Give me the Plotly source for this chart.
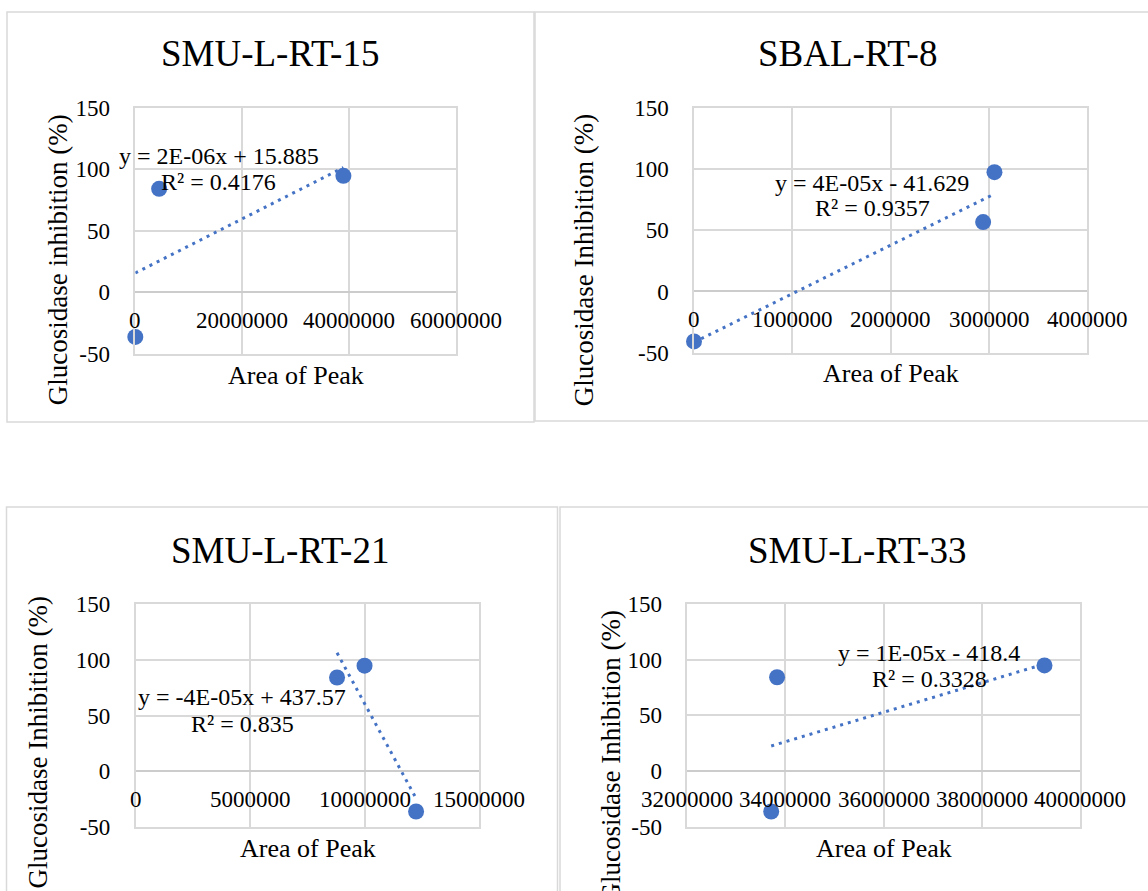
import numpy as np
import plotly.graph_objects as go

# ---------------- data ----------------
titles = ["SMU-L-RT-15", "SBAL-RT-8", "SMU-L-RT-21", "SMU-L-RT-33"]
y_titles = ["Glucosidase inhibition (%)", "Glucosidase Inhibition (%)",
            "Glucosidase Inhibition (%)", "Glucosidase Inhibition (%)"]
x_title = "Area of Peak"

x_rt15 = [0, 4450000, 38900000]
y_rt15 = [-36.1, 84.1, 94.7]

x_rt8 = [0, 2940000, 3055000]
y_rt8 = [-40.8, 56.6, 97.4]

x_rt21 = [8790000, 9990000, 12240000]
y_rt21 = [84.1, 94.7, -36.1]

x_rt33 = [33830000, 33710000, 39280000]
y_rt33 = [84.1, -36.1, 94.7]

eq_rt15 = ["y = 2E-06x + 15.885", "R² = 0.4176"]
eq_rt8 = ["y = 4E-05x - 41.629", "R² = 0.9357"]
eq_rt21 = ["y = -4E-05x + 437.57", "R² = 0.835"]
eq_rt33 = ["y = 1E-05x - 418.4", "R² = 0.3328"]

xticks_rt15 = [0, 20000000, 40000000, 60000000]
xticks_rt8 = [0, 1000000, 2000000, 3000000, 4000000]
xticks_rt21 = [0, 5000000, 10000000, 15000000]
xticks_rt33 = [32000000, 34000000, 36000000, 38000000, 40000000]
xlabels_rt15 = ["0", "20000000", "40000000", "60000000"]
xlabels_rt8 = ["0", "1000000", "2000000", "3000000", "4000000"]
xlabels_rt21 = ["0", "5000000", "10000000", "15000000"]
xlabels_rt33 = ["32000000", "34000000", "36000000", "38000000", "40000000"]

yticks = [-50, 0, 50, 100, 150]
ylabels = ["-50", "0", "50", "100", "150"]

# ---------------- styling / layout (pixels) ----------------
W, H = 1148, 891
FONT = "Liberation Serif, Times New Roman, serif"
BLUE = "#4472C4"
GRID = "#d9d9d9"

panels = [
    dict(x=x_rt15, y=y_rt15, eq=eq_rt15, xt=xticks_rt15, xl=xlabels_rt15,
         plot=(135.3, 456.3, 107.7, 354.0), title=(269.5, 54), ytitle=(57.7, 259.5),
         xtitle=(295.8, 375), eqpos=(219, 156, 182), frame=(7, 534, 12, 422)),
    dict(x=x_rt8, y=y_rt8, eq=eq_rt8, xt=xticks_rt8, xl=xlabels_rt8,
         plot=(694.0, 1087.4, 107.7, 352.7), title=(847, 54), ytitle=(584.2, 260),
         xtitle=(890.7, 373), eqpos=(872, 183, 208), frame=(535, 1160, 12, 421)),
    dict(x=x_rt21, y=y_rt21, eq=eq_rt21, xt=xticks_rt21, xl=xlabels_rt21,
         plot=(135.7, 479.3, 604.0, 827.0), title=(280, 550), ytitle=(37.5, 743),
         xtitle=(307.5, 848), eqpos=(242, 697, 724), frame=(6.5, 557.5, 507, 905)),
    dict(x=x_rt33, y=y_rt33, eq=eq_rt33, xt=xticks_rt33, xl=xlabels_rt33,
         plot=(687.3, 1079.8, 603.7, 827.0), title=(857.4, 550.5), ytitle=(610, 756.5),
         xtitle=(883.5, 848), eqpos=(929, 653, 679), frame=(560, 1160, 507, 905)),
]


def px(xp):
    return xp / W


def py(yp):
    return 1 - yp / H


fig = go.Figure()
annotations = []
shapes = []
layout_axes = {}

for i, p in enumerate(panels, start=1):
    sfx = "" if i == 1 else str(i)
    xa, ya = "x" + sfx, "y" + sfx
    l, r, t, b = p["plot"]

    fig.add_trace(go.Scatter(
        x=p["x"], y=p["y"], mode="markers", xaxis=xa, yaxis=ya,
        marker=dict(color=BLUE, size=16), cliponaxis=False, showlegend=False,
        hoverinfo="skip"))

    slope, intercept = np.polyfit(np.array(p["x"], float), np.array(p["y"], float), 1)
    xs = [min(p["x"]), max(p["x"])]
    fig.add_trace(go.Scatter(
        x=xs, y=[slope * v + intercept for v in xs], mode="lines", xaxis=xa, yaxis=ya,
        line=dict(color=BLUE, width=3, dash="3px,5px"), cliponaxis=False, showlegend=False,
        hoverinfo="skip"))

    layout_axes["xaxis" + sfx] = dict(
        domain=[px(l), px(r)], anchor=ya, range=[p["xt"][0], p["xt"][-1]],
        tickmode="array", tickvals=p["xt"], showticklabels=False, automargin=False,
        showgrid=True, gridcolor=GRID, gridwidth=1.5, zeroline=False,
        showline=True, mirror=True, linecolor=GRID, linewidth=1.5, ticks="")
    layout_axes["yaxis" + sfx] = dict(
        domain=[py(b), py(t)], anchor=xa, range=[-50, 150], automargin=False,
        tickmode="array", tickvals=yticks, ticktext=ylabels,
        tickfont=dict(family=FONT, size=23, color="black"), ticklabelstandoff=19,
        showgrid=True, gridcolor=GRID, gridwidth=1.5,
        zeroline=True, zerolinecolor="#cccccc", zerolinewidth=1.5,
        showline=True, mirror=True, linecolor=GRID, linewidth=1.5, ticks="")

    for v, lab in zip(p["xt"], p["xl"]):
        annotations.append(dict(
            x=v, y=0, xref=xa, yref=ya, text=lab, showarrow=False,
            xanchor="center", yanchor="middle", yshift=-28,
            font=dict(family=FONT, size=23, color="black")))

    annotations.append(dict(
        x=px(p["title"][0]), y=py(p["title"][1]), xref="paper", yref="paper",
        text=titles[i - 1], showarrow=False, xanchor="center", yanchor="middle",
        font=dict(family=FONT, size=37, color="black")))
    annotations.append(dict(
        x=px(p["xtitle"][0]), y=py(p["xtitle"][1]), xref="paper", yref="paper",
        text=x_title, showarrow=False, xanchor="center", yanchor="middle",
        font=dict(family=FONT, size=26, color="black")))
    annotations.append(dict(
        x=px(p["ytitle"][0]), y=py(p["ytitle"][1]), xref="paper", yref="paper",
        text=y_titles[i - 1], showarrow=False, xanchor="center", yanchor="middle",
        textangle=-90, font=dict(family=FONT, size=27, color="black")))
    ex, ey1, ey2 = p["eqpos"]
    for txt, yy in zip(p["eq"], (ey1, ey2)):
        annotations.append(dict(
            x=px(ex), y=py(yy), xref="paper", yref="paper", text=txt,
            showarrow=False, xanchor="center", yanchor="middle",
            font=dict(family=FONT, size=24, color="black")))

    fl, fr, ft, fb = p["frame"]
    shapes.append(dict(type="rect", xref="paper", yref="paper",
                       x0=px(fl), x1=px(fr), y0=py(fb), y1=py(ft),
                       line=dict(color=GRID, width=1.5), layer="below"))

fig.update_layout(
    width=W, height=H, autosize=False, margin=dict(l=0, r=0, t=0, b=0, pad=0),
    paper_bgcolor="white", plot_bgcolor="white",
    font=dict(family=FONT, color="black"),
    annotations=annotations, shapes=shapes, showlegend=False, hovermode=False,
    **layout_axes)

fig.write_html("out.html", config={"displayModeBar": False, "responsive": False},
               post_script="document.body.style.margin='0';document.body.style.overflow='hidden';")
